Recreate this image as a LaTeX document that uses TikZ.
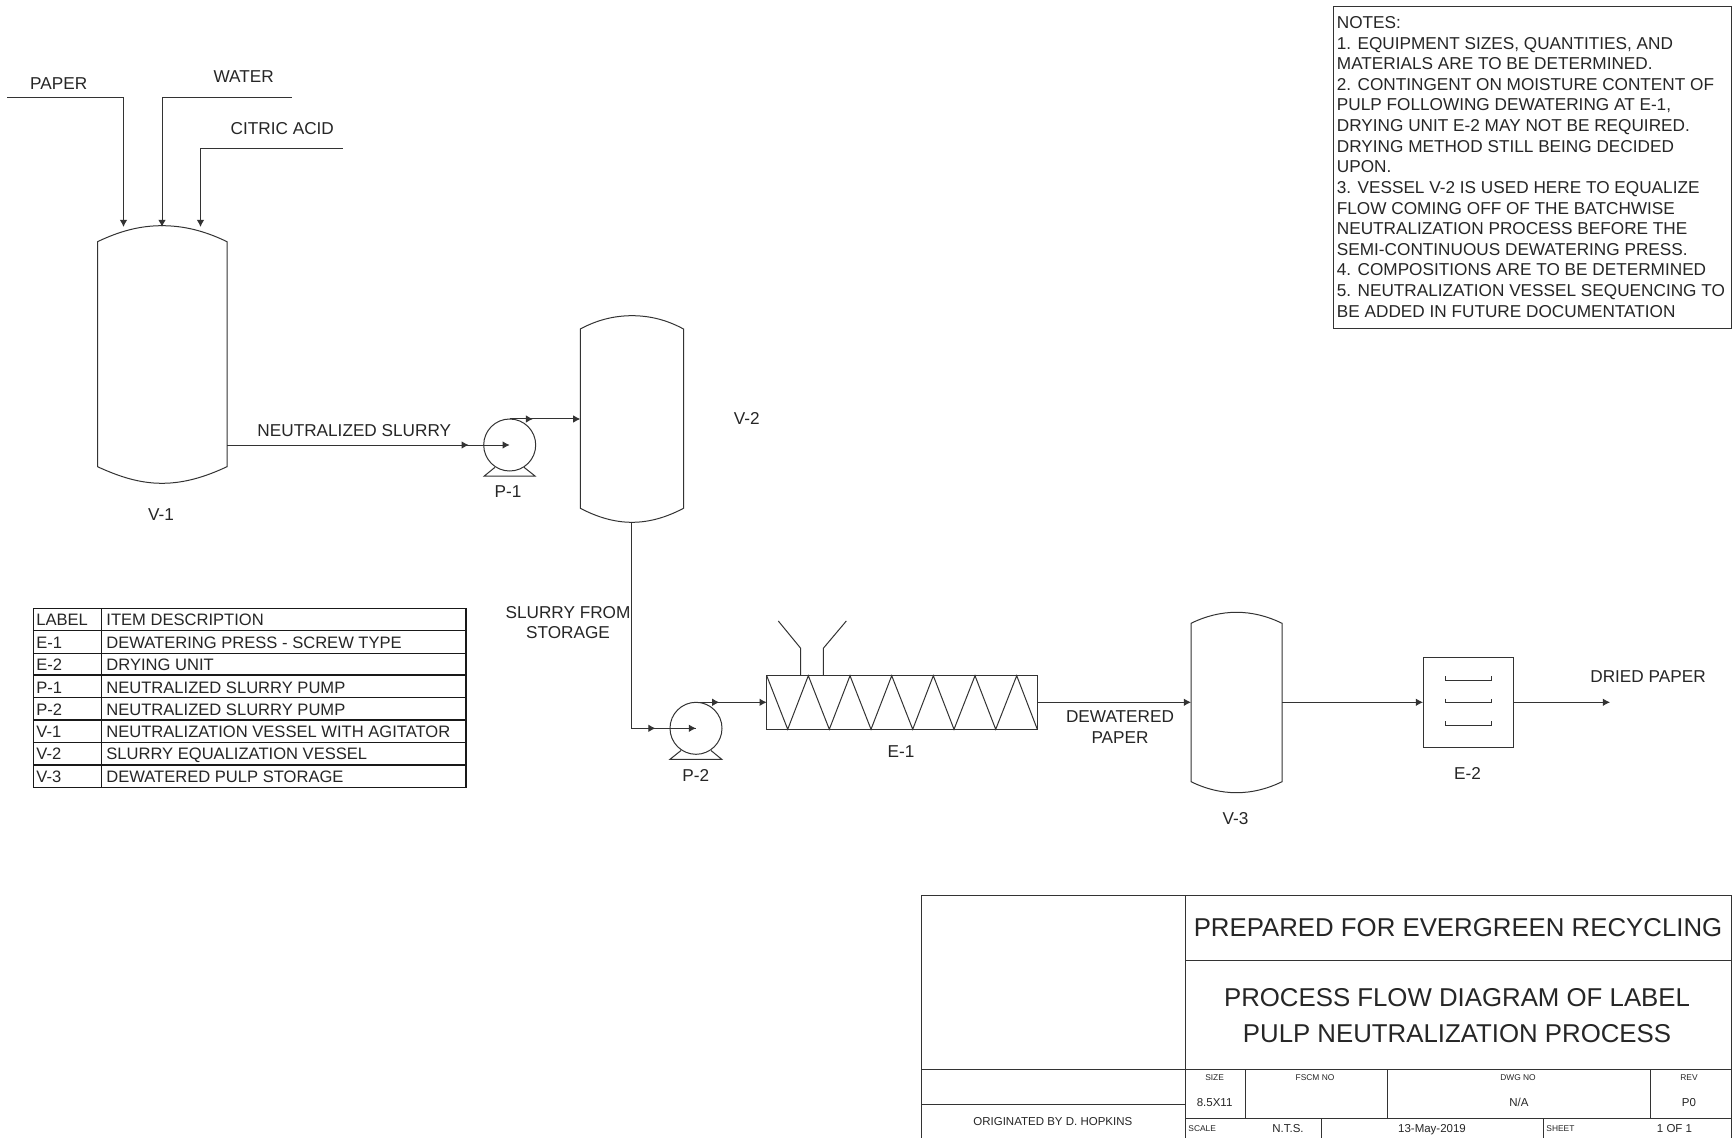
\documentclass[tikz,border=0pt]{standalone}
\usepackage{fontspec}
\setmainfont{Liberation Sans}
\usetikzlibrary{arrows.meta,decorations.markings}
\newcommand{\fs}[1]{\fontsize{#1}{10.4}\selectfont}
\tikzset{
 x=0.5pt,y=-0.5pt,
 ln/.style={draw=black!80,line width=0.5pt},
 grid/.style={draw=black!90,line width=0.6pt},
 flow/.style={ln,-{Latex[length=3.6pt,width=3.8pt]}},
 midflow/.style={ln,postaction={decorate},decoration={markings,mark=at position #1 with {\arrow{Latex[length=3.6pt,width=3.8pt]}}}},
 mlbl/.style={inner sep=0pt,text=black!85,font=\fs{8.6}},
 lbl/.style={mlbl,text height=6.2pt,text depth=0pt},
 leg/.style={lbl,font=\fs{8.28}},
 big/.style={inner sep=0pt,text=black!85,font=\fs{12.9},text height=9.3pt,text depth=0pt},
 tiny/.style={inner sep=0pt,text=black!85,font=\fs{4.2},text height=3pt,text depth=0pt},
 small/.style={inner sep=0pt,text=black!85,font=\fs{5.75},text height=4.1pt,text depth=0pt},
}
\begin{document}
\begin{tikzpicture}
\useasboundingbox (0,0) rectangle (1732,1138);
\fill[white] (0,0) rectangle (1732,1138);
% ---- coordinates for free ends
\coordinate (paperS) at (7,97.3);
\coordinate (paperK) at (123.5,97.3);
\coordinate (paperE) at (123.5,227);
\coordinate (waterS) at (291.7,97.3);
\coordinate (waterK) at (162,97.3);
\coordinate (waterE) at (162,227);
\coordinate (citricS) at (342.7,148.7);
\coordinate (citricK) at (200.5,148.7);
\coordinate (citricE) at (200.5,227);
\coordinate (v1out) at (227,445);
\coordinate (p1c) at (509.7,445);
\coordinate (p1top) at (509.7,419);
\coordinate (v2in) at (580.3,419);
\coordinate (v2out) at (631.7,522.3);
\coordinate (v2k) at (631.7,728.3);
\coordinate (p2c) at (696,728.3);
\coordinate (p2top) at (696,702.3);
\coordinate (e1in) at (766.7,702.3);
\coordinate (e1out) at (1037.3,702.3);
\coordinate (v3in) at (1191,702.3);
\coordinate (v3out) at (1282,702.3);
\coordinate (e2in) at (1423,702.3);
\coordinate (e2out) at (1513,702.3);
\coordinate (prod) at (1610,702.3);
% ---- vessels
\draw[ln] (97.5,241.7) .. controls (120,231) and (140,225.7) .. (162,225.7) .. controls (184,225.7) and (205,231) .. (227,241.7)
 -- (227,466.7) .. controls (205,477) and (184,483.3) .. (162,483.3) .. controls (140,483.3) and (120,477) .. (97.5,466.7) -- cycle;
\draw[ln] (580.3,329) .. controls (597,320) and (614,315.7) .. (632,315.7) .. controls (650,315.7) and (667,320) .. (683.5,329)
 -- (683.5,508.3) .. controls (667,517) and (650,522.3) .. (632,522.3) .. controls (614,522.3) and (597,517) .. (580.3,508.3) -- cycle;
\draw[ln] (1191,623.3) .. controls (1206,616) and (1221,612.3) .. (1236.5,612.3) .. controls (1252,612.3) and (1267,616) .. (1282,623.3)
 -- (1282,781.7) .. controls (1267,789) and (1252,792.7) .. (1236.5,792.7) .. controls (1221,792.7) and (1206,789) .. (1191,781.7) -- cycle;
% ---- pumps
\draw[ln] (p1c) circle[radius=26];
\draw[ln] (495,467.3) -- (484.3,476) -- (535,476) -- (524,467.3);
\draw[ln] (p2c) circle[radius=26];
\draw[ln] (681,750.5) -- (670,759.3) -- (721.7,759.3) -- (711,750.5);
% ---- E-1
\draw[ln] (766.7,675.7) rectangle (1037.3,729.3);
\draw[ln] (766.7,675.7) -- (787.7,729.3) -- (808.3,675.7) -- (829.3,729.3) -- (850,675.7) -- (871,729.3) -- (891.7,675.7) -- (912.7,729.3) -- (933.3,675.7) -- (954,729.3) -- (975,675.7) -- (995.7,729.3) -- (1016.7,675.7) -- (1037.3,729.3);
\draw[ln] (800.7,675.7) -- (800.7,648.3) -- (778.3,621);
\draw[ln] (823.3,675.7) -- (823.3,648.3) -- (846.3,621);
% ---- E-2
\draw[ln] (1423,657.3) rectangle (1513,747.3);
\foreach \yy in {680,702.7,725.3}
  \draw[ln] (1445.7,\yy-4) -- (1445.7,\yy) -- (1491,\yy) -- (1491,\yy-4);
% ---- connectors
\draw[flow] (paperS) -- (paperK) -- (paperE);
\draw[flow] (waterS) -- (waterK) -- (waterE);
\draw[flow] (citricS) -- (citricK) -- (citricE);
\draw[midflow=0.855,flow] (v1out) -- (p1c);
\draw[midflow=0.33,flow] (p1top) -- (v2in);
\draw[flow] (v2out) -- (v2k) -- (p2c);
\path[midflow=0.37] (v2k) -- (p2c);
\draw[midflow=0.33,flow] (p2top) -- (e1in);
\draw[flow] (e1out) -- (v3in);
\draw[flow] (v3out) -- (e2in);
\draw[flow] (e2out) -- (prod);
% ---- stream and equipment labels
\node[lbl] (tPaper) at (58.7,83.3) {PAPER};
\node[lbl] (tWater) at (243.7,76.7) {WATER};
\node[lbl] (tCitric) at (282.3,128.3) {CITRIC ACID};
\node[lbl] (tNeut) at (354.3,430.7) {NEUTRALIZED SLURRY};
\node[lbl] (tV1) at (161,514) {V-1};
\node[lbl] (tP1) at (508,491.7) {P-1};
\node[lbl] (tV2) at (746.7,418.3) {V-2};
\node[mlbl,align=center] (tSlurry) at (568,622.5) {SLURRY FROM\\STORAGE};
\node[lbl] (tP2) at (695.7,775) {P-2};
\node[lbl] (tE1) at (901,751.7) {E-1};
\node[mlbl,align=center] (tDew) at (1120,727) {DEWATERED\\PAPER};
\node[lbl] (tV3) at (1235.5,818) {V-3};
\node[lbl] (tE2) at (1467.5,773) {E-2};
\node[lbl] (tDried) at (1648,676) {DRIED PAPER};
% ---- legend
\draw[grid] (33.3,608.3) rectangle (466,787.3);
\draw[grid] (101.7,608.3) -- (101.7,787.3);
\foreach \yy in {630.7,653.3,675,697.3,720,742.3,765}
  \draw[grid] (33.3,\yy) -- (466,\yy);
\foreach \yy/\aa/\bb [count=\i] in {
 619.7/LABEL/ITEM DESCRIPTION,
 642.3/E-1/DEWATERING PRESS - SCREW TYPE,
 664.3/E-2/DRYING UNIT,
 687.3/P-1/NEUTRALIZED SLURRY PUMP,
 709.3/P-2/NEUTRALIZED SLURRY PUMP,
 731/V-1/NEUTRALIZATION VESSEL WITH AGITATOR,
 753.3/V-2/SLURRY EQUALIZATION VESSEL,
 776/V-3/DEWATERED PULP STORAGE}{
  \node[leg,anchor=west] (la\i) at (36,\yy) {\aa};
  \node[leg,anchor=west] (lb\i) at (106,\yy) {\bb};
}
% ---- notes
\draw[ln] (1333,7) rectangle (1731.7,329);
\foreach \yy/\ntxt [count=\i] in {
 22.3/{NOTES:},
 42.9/{1. EQUIPMENT SIZES, QUANTITIES, AND},
 63.5/{MATERIALS ARE TO BE DETERMINED.},
 84.2/{2. CONTINGENT ON MOISTURE CONTENT OF},
 104.8/{PULP FOLLOWING DEWATERING AT E-1,},
 125.4/{DRYING UNIT E-2 MAY NOT BE REQUIRED.},
 146/{DRYING METHOD STILL BEING DECIDED},
 166.7/{UPON.},
 187.3/{3. VESSEL V-2 IS USED HERE TO EQUALIZE},
 207.9/{FLOW COMING OFF OF THE BATCHWISE},
 228.5/{NEUTRALIZATION PROCESS BEFORE THE},
 249.1/{SEMI-CONTINUOUS DEWATERING PRESS.},
 269.8/{4. COMPOSITIONS ARE TO BE DETERMINED},
 290.4/{5. NEUTRALIZATION VESSEL SEQUENCING TO},
 311/{BE ADDED IN FUTURE DOCUMENTATION}}{
  \node[lbl,anchor=west] (n\i) at (1336.5,\yy) {\ntxt};
}
% ---- title block
\draw[ln] (921,895) rectangle (1731.7,1138);
\draw[ln] (1185.4,895) -- (1185.4,1138);
\draw[ln] (1185.4,960) -- (1731.7,960);
\draw[ln] (921,1069.6) -- (1731.7,1069.6);
\draw[ln] (921,1104) -- (1185.4,1104);
\draw[ln] (1185.4,1118.7) -- (1731.7,1118.7);
\draw[ln] (1245,1069.6) -- (1245,1118.7);
\draw[ln] (1387,1069.6) -- (1387,1118.7);
\draw[ln] (1650.7,1069.6) -- (1650.7,1118.7);
\draw[ln] (1321.8,1118.7) -- (1321.8,1138);
\draw[ln] (1543.5,1118.7) -- (1543.5,1138);
\node[big] (t1) at (1458,927) {PREPARED FOR EVERGREEN RECYCLING};
\node[big] (t2) at (1457,996.7) {PROCESS FLOW DIAGRAM OF LABEL};
\node[big] (t3) at (1457,1033) {PULP NEUTRALIZATION PROCESS};
\node[tiny] (c1) at (1214.6,1077.7) {SIZE};
\node[tiny] (c2) at (1315,1077.7) {FSCM NO};
\node[tiny] (c3) at (1518,1077.7) {DWG NO};
\node[tiny] (c4) at (1689,1077.7) {REV};
\node[small] (c5) at (1214.6,1102) {8.5X11};
\node[small] (c6) at (1519,1102) {N/A};
\node[small] (c7) at (1689,1102) {P0};
\node[small] (c8) at (1052.8,1121) {ORIGINATED BY D. HOPKINS};
\node[tiny,anchor=west] (c9) at (1188,1128) {SCALE};
\node[small] (c10) at (1288,1128) {N.T.S.};
\node[small] (c11) at (1432,1128) {13-May-2019};
\node[tiny,anchor=west] (c12) at (1546,1128) {SHEET};
\node[small] (c13) at (1674.5,1128) {1 OF 1};
\end{tikzpicture}
\end{document}
